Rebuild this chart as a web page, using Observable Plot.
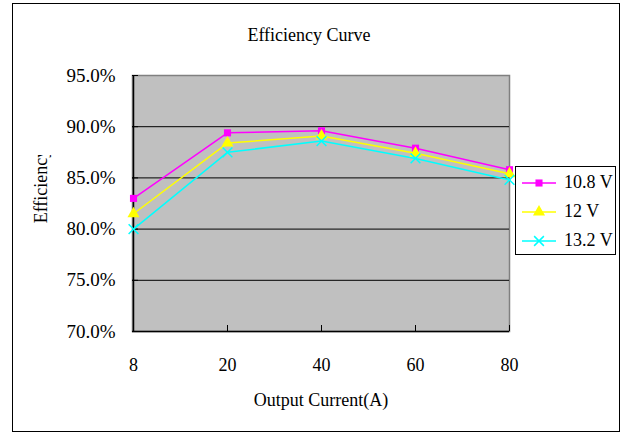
<!DOCTYPE html>
<html><head><meta charset="utf-8">
<script src="https://cdn.jsdelivr.net/npm/d3@7"></script>
<script src="https://cdn.jsdelivr.net/npm/@observablehq/plot@0.6"></script>
<style>
body{margin:0;background:#fff;}
#wrap{position:relative;width:622px;height:434px;font-family:"Liberation Serif","Times New Roman",serif;color:#000;}
#chart{position:absolute;left:0;top:0;}
#chart svg, #chart svg text{font-family:"Liberation Serif","Times New Roman",serif !important;}
#border{position:absolute;left:12px;top:3px;width:606px;height:427px;border:1.5px solid #000;}
#title{position:absolute;left:0;width:618px;top:26px;text-align:center;font-size:18px;line-height:18px;}
#legend{position:absolute;left:515px;top:166px;width:99px;height:86px;border:1px solid #000;background:#fff;padding-top:1px;}
.row{height:29px;display:flex;align-items:center;font-size:18px;}
.row svg{margin-left:5px;margin-right:7px;}
</style></head><body>
<div id="wrap"><div id="border"></div><div id="chart"></div><div id="title">Efficiency Curve</div><div id="legend"></div></div>
<script>
const currents = ["8", "20", "40", "60", "80"];
const seriesNames = ["10.8 V", "12 V", "13.2 V"];
const eff108 = [83.0, 89.4, 89.6, 87.9, 85.8];
const eff12 = [81.5, 88.4, 89.1, 87.4, 85.4];
const eff132 = [80.0, 87.5, 88.6, 86.9, 84.8];
const yTicks = [70, 75, 80, 85, 90, 95];
const colors = ["#ff00ff", "#ffff00", "#00ffff"];
const symbols = ["square", "triangle", "times"];
const title = "Efficiency Curve";
const xTitle = "Output Current(A)";
const yTitle = "Efficiency";
const serif = "Liberation Serif";

const seriesValues = [eff108, eff12, eff132];
const data = [];
seriesNames.forEach((s, i) => seriesValues[i].forEach((v, j) => data.push({series: s, current: currents[j], eff: v})));

const dotMarks = seriesNames.map((s, i) => {
  const d = data.filter(r => r.series === s);
  if (symbols[i] === "times") {
    return Plot.dot(d, {x: "current", y: "eff", symbol: () => symbols[i], r: 4.5, stroke: colors[i], strokeWidth: 1.5, fill: "none"});
  }
  return Plot.dot(d, {x: "current", y: "eff", symbol: () => symbols[i], r: symbols[i] === "triangle" ? 4.5 : 4, fill: colors[i], stroke: "none"});
});

const plot = Plot.plot({
  width: 622, height: 434,
  marginLeft: 132, marginRight: 113, marginTop: 75, marginBottom: 103,
  style: {fontFamily: serif, fontSize: "18px", background: "transparent", color: "#000"},
  x: {type: "point", domain: currents, padding: 0, label: null},
  y: {domain: [yTicks[0], yTicks[yTicks.length - 1]], label: null},
  symbol: {type: "identity"},
  marks: [
    Plot.frame({fill: "#c0c0c0", stroke: "#808080", strokeWidth: 1.5}),
    Plot.ruleY(yTicks.slice(1, -1), {stroke: "#000", strokeWidth: 1}),
    Plot.ruleX([currents[0]], {stroke: "#000", strokeWidth: 1.5}),
    Plot.ruleY([yTicks[0]], {stroke: "#000", strokeWidth: 1.5}),
    Plot.axisY({ticks: yTicks, tickFormat: d => d.toFixed(1) + "%", tickSize: -6, tickPadding: 23, fontSize: 19, fontFamily: serif, label: null}),
    Plot.axisX({tickSize: -6, tickPadding: 33, fontSize: 18, fontFamily: serif, label: null}),
    Plot.text([xTitle], {frameAnchor: "bottom", dy: 69, lineAnchor: "middle", textAnchor: "middle", text: d => d, fontSize: 18, fontFamily: serif}),
    Plot.text([yTitle], {frameAnchor: "left", dx: -91, dy: -17.5, rotate: -90, lineAnchor: "middle", textAnchor: "middle", text: d => d, fontSize: 18, fontFamily: serif}),
    Plot.line(data, {x: "current", y: "eff", z: "series", stroke: d => colors[seriesNames.indexOf(d.series)], strokeWidth: 1.5}),
    ...dotMarks
  ]
});
document.getElementById("chart").appendChild(plot);

// clip the y-axis title like the reference
const svg = d3.select(plot);
svg.append("defs").append("clipPath").attr("id", "yclip").attr("clipPathUnits", "userSpaceOnUse")
  .append("rect").attr("x", 0).attr("y", 155).attr("width", 622).attr("height", 300);
const ytxt = svg.selectAll("text").filter(function() { return this.textContent === yTitle; }).node();
if (ytxt) {
  const g = ytxt.parentNode;
  const wrapper = document.createElementNS("http://www.w3.org/2000/svg", "g");
  g.parentNode.insertBefore(wrapper, g);
  wrapper.appendChild(g);
  wrapper.setAttribute("clip-path", "url(#yclip)");
}

document.getElementById("title").textContent = title;

// legend
const legend = d3.select("#legend");
seriesNames.forEach((s, i) => {
  const row = legend.append("div").attr("class", "row");
  const sw = row.append("svg").attr("width", 36).attr("height", 14);
  sw.append("line").attr("x1", 1).attr("x2", 35).attr("y1", 7).attr("y2", 7).attr("stroke", colors[i]).attr("stroke-width", 1.5);
  const symType = symbols[i] === "square" ? d3.symbolSquare : symbols[i] === "triangle" ? d3.symbolTriangle : d3.symbolTimes;
  const r = symbols[i] === "square" ? 4 : 4.5;
  const p = sw.append("path").attr("transform", "translate(18,7)").attr("d", d3.symbol(symType, Math.PI * r * r)());
  if (symbols[i] === "times") p.attr("fill", "none").attr("stroke", colors[i]).attr("stroke-width", 1.5);
  else p.attr("fill", colors[i]);
  row.append("span").text(s);
});
</script>
</body></html>
